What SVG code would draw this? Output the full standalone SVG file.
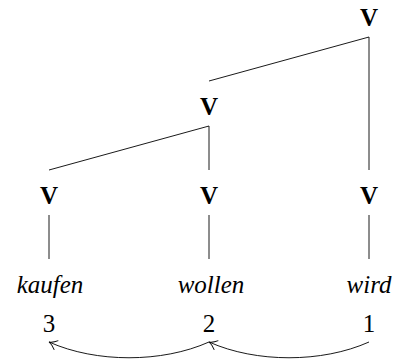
<svg xmlns="http://www.w3.org/2000/svg" width="396" height="361" viewBox="0 0 396 361">
<defs>
<style>
.cat{font-family:"Liberation Serif",serif;font-weight:bold;font-size:25px;text-anchor:middle;fill:#000}
.w{font-family:"Liberation Serif",serif;font-style:italic;font-size:25px;text-anchor:middle;fill:#000}
.n{font-family:"Liberation Serif",serif;font-size:25px;text-anchor:middle;fill:#000}
.e{stroke:#000;stroke-width:0.9;fill:none}
.arc{stroke:#000;stroke-width:0.9;fill:none;marker-end:url(#ah)}
</style>
<marker id="ah" viewBox="-10 -6 12 12" refX="0" refY="0" markerWidth="12" markerHeight="12" markerUnits="userSpaceOnUse" orient="auto">
<path d="M-8,-5 C-5,-2 -2,-0.5 0,0 C-2,0.5 -5,2 -8,5" fill="none" stroke="#000" stroke-width="0.9"/>
</marker>
</defs>
<g id="connectors">
<line class="e" x1="369" y1="37" x2="369" y2="170"/>
<line class="e" x1="369" y1="37" x2="209" y2="81"/>
<line class="e" x1="209" y1="126" x2="209" y2="170"/>
<line class="e" x1="209" y1="126" x2="49" y2="170"/>
<line class="e" x1="49" y1="215" x2="49" y2="259"/>
<line class="e" x1="209" y1="215" x2="209" y2="259"/>
<line class="e" x1="369" y1="215" x2="369" y2="259"/>
<path class="arc" d="M369,342 C322,363 256,363 209,342"/>
<path class="arc" d="M209,342 C162,363 96,363 49,342"/>
</g>
<g id="v-top"><text class="cat" x="369" y="26">V</text></g>
<g id="v-mid"><text class="cat" x="209" y="115">V</text></g>
<g id="v-1"><text class="cat" x="49" y="204">V</text></g>
<g id="v-2"><text class="cat" x="209" y="204">V</text></g>
<g id="v-3"><text class="cat" x="369" y="204">V</text></g>
<g id="w-kaufen"><text class="w" x="50" y="293">kaufen</text><text class="n" x="49" y="332">3</text></g>
<g id="w-wollen"><text class="w" x="211" y="293">wollen</text><text class="n" x="209" y="332">2</text></g>
<g id="w-wird"><text class="w" x="369" y="293">wird</text><text class="n" x="369" y="332">1</text></g>
</svg>
